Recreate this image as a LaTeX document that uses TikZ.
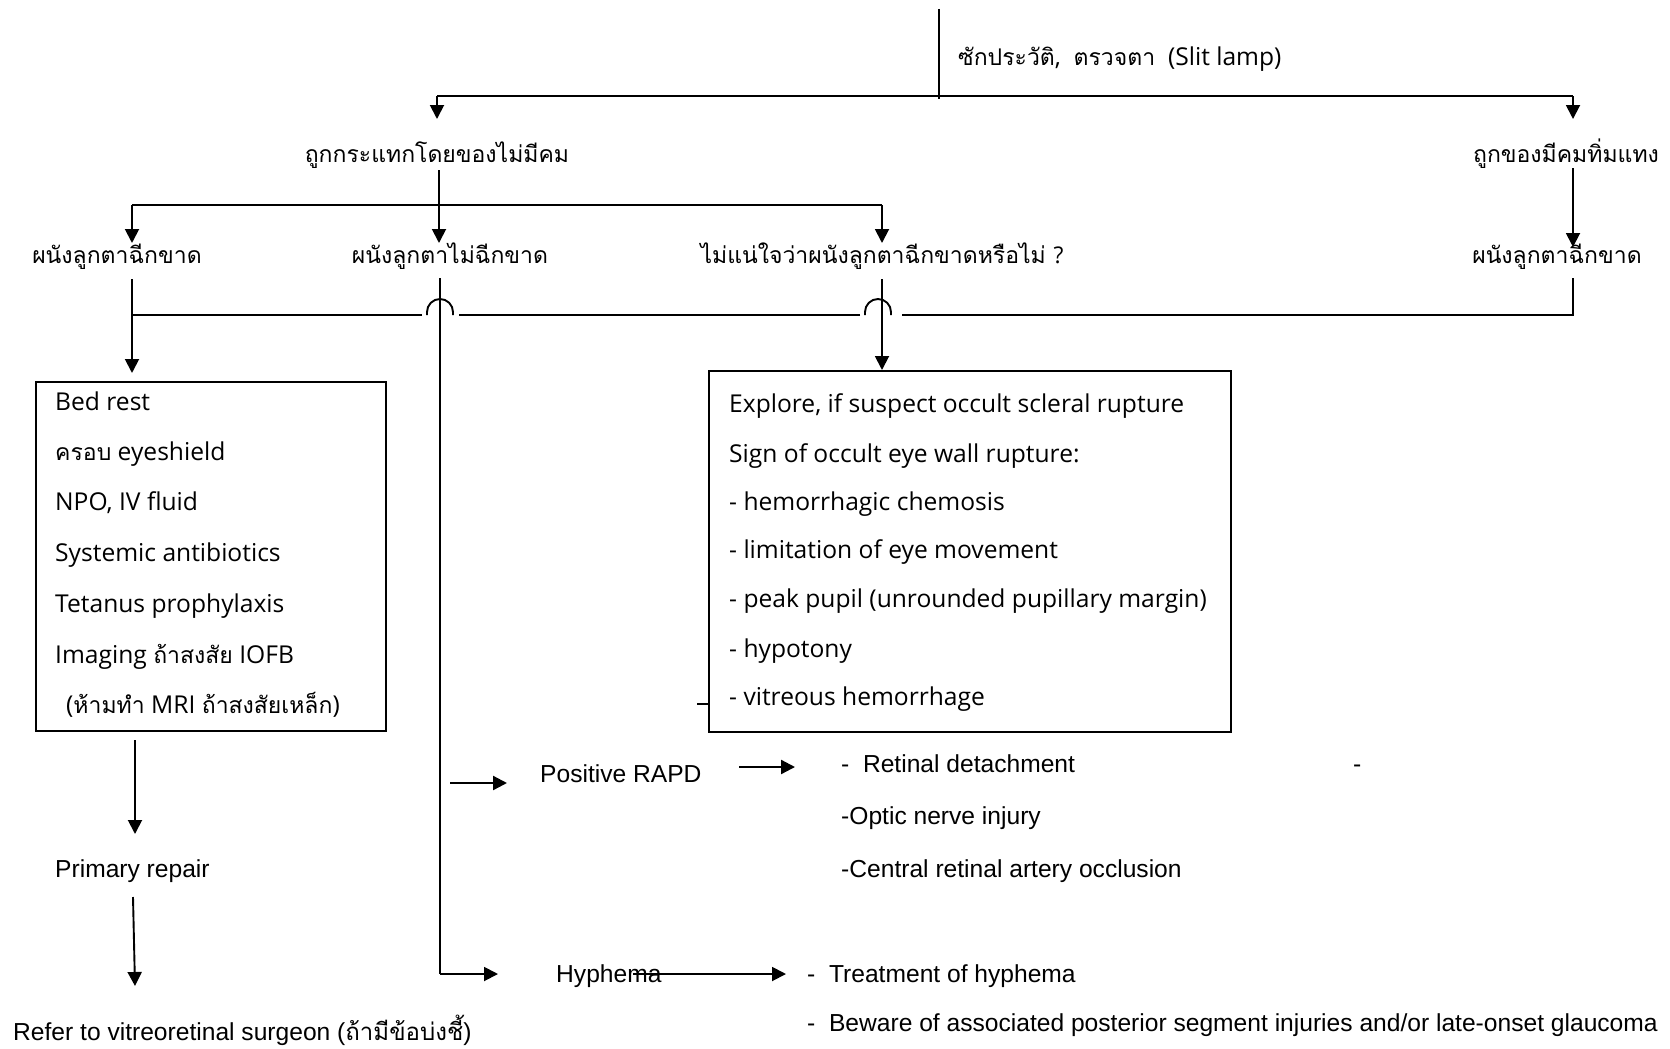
\documentclass[tikz,border=0pt]{standalone}
\usepackage{fontspec}
\setmainfont{Open Sans}
\newfontfamily\thf[Script=Thai]{Loma}
\newfontfamily\arl{Liberation Sans}
\usetikzlibrary{arrows.meta}
\begin{document}
\begin{tikzpicture}[x=1pt,y=-1pt,
  ln/.style={line width=1.9pt},
  thin/.style={line width=1.1pt},
  arr/.style={ln,-{Triangle[length=14pt,width=14pt]}},
  bx/.style={draw,line width=2.2pt,inner sep=0pt,anchor=north west},
  tx/.style={anchor=base west,inner sep=0pt,font=\fontsize{24.6}{28}\selectfont},
  th/.style={anchor=base,inner sep=0pt,font=\thf\fontsize{23}{28}\selectfont},
  ar/.style={anchor=base west,inner sep=0pt,font=\arl\fontsize{24.6}{28}\selectfont}]
\useasboundingbox (0,0) rectangle (1670,1049);
\fill[white] (0,0) rectangle (1670,1049);

% ---- top
\coordinate (t0) at (939,9);
\coordinate (t1) at (939,99);
\draw[thin] (t0) -- (t1);
\node[tx] (hist) at (958,66) {{\thf\fontsize{23}{28}\selectfont ซักประวัติ}, \ {\thf\fontsize{23}{28}\selectfont ตรวจตา} \ (Slit lamp)};
\coordinate (hL) at (437,96);
\coordinate (hR) at (1573,96);
\coordinate (hLt) at (437,119);
\coordinate (hRt) at (1573,119);
\draw[ln] (hL) -- (hR);

\node[th] (blunt) at (437,162) {ถูกกระแทกโดยของไม่มีคม};
\node[th] (sharp) at (1566,162) {ถูกของมีคมทิ่มแทง};
\draw[arr] (hL) -- (hLt);
\draw[arr] (hR) -- (hRt);

% ---- second level
\coordinate (b0) at (439,170);
\coordinate (b0t) at (439,243);
\coordinate (bL) at (132,205);
\coordinate (bLt) at (132,243);
\coordinate (bR) at (882,205);
\coordinate (bRt) at (882,243);
\coordinate (s0) at (1573,168);
\coordinate (s0t) at (1573,247);
\draw[ln] (bL) -- (bR);

\node[th] (ruptL) at (117,263) {ผนังลูกตาฉีกขาด};
\node[th] (intact) at (450,263) {ผนังลูกตาไม่ฉีกขาด};
\node[th] (unsure) at (882,263) {ไม่แน่ใจว่าผนังลูกตาฉีกขาดหรือไม่ {\fontspec{Open Sans}?}};
\node[th] (ruptR) at (1557,263) {ผนังลูกตาฉีกขาด};

\draw[arr] (b0) -- (b0t);
\draw[arr] (bL) -- (bLt);
\draw[arr] (bR) -- (bRt);
\draw[arr] (s0) -- (s0t);

% ---- merge line with hops
\coordinate (mR0) at (1573,278);
\coordinate (mR) at (1573,315);
\coordinate (mL) at (132,315);
\draw[ln] (mR0) -- (mR) -- (902,315);
\draw[ln] (860,315) -- (459,315);
\draw[ln] (422,315) -- (mL);
\draw[ln] (865,315) -- (865,312) arc[start angle=180,end angle=0,radius=13pt] -- (891,315);
\draw[ln] (427,315) -- (427,312) arc[start angle=180,end angle=0,radius=13pt] -- (453,315);

% ---- boxes
\node[bx,minimum width=350pt,minimum height=349pt] (boxL) at (35,381) {};
\node[bx,minimum width=522pt,minimum height=361pt] (boxR) at (708,370) {};

\coordinate (lv0) at (132,279);
\coordinate (lv1) at (132,373);
\coordinate (rv0) at (882,279);
\draw[arr] (lv0) -- (lv1);
\draw[arr] (rv0) -- (boxR.north -| rv0);

\node[tx] (l1) at (55,410) {Bed rest};
\node[tx] (l2) at (55,460) {{\thf\fontsize{23}{28}\selectfont ครอบ} eyeshield};
\node[tx] (l3) at (55,510) {NPO, IV fluid};
\node[tx] (l4) at (55,561) {Systemic antibiotics};
\node[tx] (l5) at (55,612) {Tetanus prophylaxis};
\node[tx] (l6) at (55,663) {Imaging {\thf\fontsize{23}{28}\selectfont ถ้าสงสัย} IOFB};
\node[tx] (l7) at (66,713) {({\thf\fontsize{23}{28}\selectfont ห้ามทำ} MRI {\thf\fontsize{23}{28}\selectfont ถ้าสงสัยเหล็ก})};

\node[tx] (r1) at (729,412) {Explore, if suspect occult scleral rupture};
\node[tx] (r2) at (729,462) {Sign of occult eye wall rupture:};
\node[tx] (r3) at (729,510) {- hemorrhagic chemosis};
\node[tx] (r4) at (729,558) {- limitation of eye movement};
\node[tx] (r5) at (729,607) {- peak pupil (unrounded pupillary margin)};
\node[tx] (r6) at (729,657) {- hypotony};
\node[tx] (r7) at (729,705) {- vitreous hemorrhage};
\coordinate (tick) at (697,704);
\draw[ln] (tick) -- (boxR.west |- tick);

% ---- intact branch
\coordinate (iv0) at (440,278);
\coordinate (iv1) at (440,974);
\draw[ln] (iv0) -- (iv1);
\node[ar] (rapd) at (540,782) {Positive RAPD};
\coordinate (ra0) at (450,783);
\coordinate (ra1) at (507,783);
\coordinate (rb0) at (739,767);
\coordinate (rb1) at (795,767);
\draw[arr,line width=2.3pt] (ra0) -- (ra1);
\draw[arr,line width=2.3pt] (rb0) -- (rb1);
\node[ar] (rd) at (841,772) {-\ \ Retinal detachment};
\node[ar] (dash) at (1353,772) {-};
\node[ar] (on) at (841,824) {-Optic nerve injury};
\node[ar] (crao) at (841,877) {-Central retinal artery occlusion};

\coordinate (hy0) at (498,974);
\draw[arr] (iv1) -- (hy0);
\node[ar] (hyph) at (556,982) {Hyphema};
\coordinate (hy1) at (633,974);
\coordinate (hy2) at (786,974);
\draw[arr] (hy1) -- (hy2);
\node[ar] (tx1) at (807,982) {-\ \ Treatment of hyphema};
\node[ar] (tx2) at (807,1031) {-\ \ Beware of associated posterior segment injuries and/or late-onset glaucoma};

% ---- left column
\coordinate (p0) at (135,740);
\coordinate (p1) at (135,834);
\coordinate (p2) at (133,897);
\coordinate (p3) at (135,986);
\draw[arr] (p0) -- (p1);
\node[ar] (prim) at (55,877) {Primary repair};
\draw[arr] (p2) -- (p3);
\node[ar] (refer) at (13,1040) {Refer to vitreoretinal surgeon ({\thf\fontsize{24}{28}\selectfont ถ้ามีข้อบ่งชี้})};
\end{tikzpicture}
\end{document}
